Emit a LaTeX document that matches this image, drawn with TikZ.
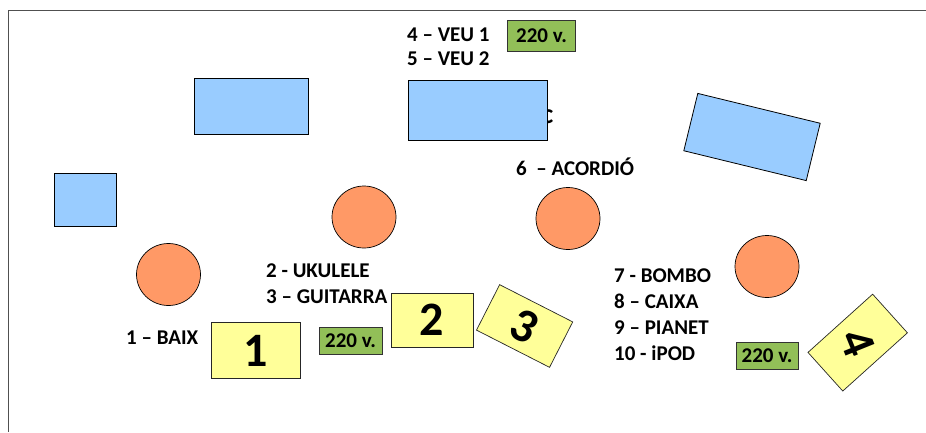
\documentclass[tikz,border=0pt]{standalone}
\usepackage{fontspec}
\setmainfont{Carlito}
\usetikzlibrary{shapes.geometric}
\definecolor{blueF}{HTML}{99CCFF}
\definecolor{orangeF}{HTML}{FF9966}
\definecolor{yellowF}{HTML}{FFFF99}
\definecolor{greenF}{HTML}{92BF58}
\definecolor{frameC}{HTML}{505050}
\begin{document}
\begin{tikzpicture}[x=1pt,y=-1pt,
  lbl/.style={font=\fontsize{21}{24}\selectfont\bfseries, anchor=base west, inner sep=0pt},
  bluebox/.style={draw=black, line width=0.8pt, fill=blueF, inner sep=0pt},
  drum/.style={ellipse, draw=black, line width=0.7pt, fill=orangeF, minimum width=64pt, minimum height=62pt, inner sep=0pt},
  monitor/.style={draw=black!85, line width=0.7pt, fill=yellowF, inner sep=0pt, font=\fontsize{48}{50}\selectfont\bfseries},
  plug/.style={draw=black!80, line width=0.8pt, fill=greenF, inner sep=0pt, font=\fontsize{21}{24}\selectfont\bfseries}]
\useasboundingbox (0,0) rectangle (926,432);
% frame
\coordinate (fTR) at (926,10.5);
\coordinate (fTL) at (8.5,10.5);
\coordinate (fBL) at (8.5,432);
\draw[frameC, line width=1.6pt] (fTR) -- (fTL) -- (fBL);
% hidden letter behind the centre box
\node[font=\fontsize{28}{30}\selectfont\bfseries, anchor=base east, inner sep=0pt] (cl) at (553.5,123) {c};
% blue boxes
\node[bluebox, minimum width=114pt, minimum height=56pt] (bA) at (251,106) {};
\node[bluebox, minimum width=139pt, minimum height=60pt] (bB) at (477.5,110) {};
\node[bluebox, minimum width=62pt, minimum height=53pt] (bC) at (85,199.5) {};
\node[bluebox, minimum width=126pt, minimum height=59pt, rotate=-13.7] (bD) at (752,137) {};
% drums / circles
\node[drum] (o1) at (168.5,274.5) {};
\node[drum] (o2) at (364,217) {};
\node[drum] (o3) at (568,218.5) {};
\node[drum] (o4) at (767,266.5) {};
% monitors
\node[monitor, minimum width=89pt, minimum height=56pt] (m1) at (255.5,350.5) {\raisebox{-2pt}{1}};
\node[monitor, minimum width=82pt, minimum height=54pt] (m2) at (432,320) {2};
\node[monitor, minimum width=82pt, minimum height=51pt, rotate=-27] (m3) at (524.6,326) {3};
\node[monitor, minimum width=52pt, minimum height=87pt, rotate=-48] (m4) at (857.7,342.6) {};
\node[font=\fontsize{48}{50}\selectfont\bfseries, inner sep=0pt, rotate=-68] (m4t) at (m4.center) {4};
% power
\node[plug, minimum width=68pt, minimum height=31pt] (p1) at (541.5,35.5) {220 v.};
\node[plug, minimum width=63pt, minimum height=27pt] (p2) at (350.5,340.5) {220 v.};
\node[plug, minimum width=62pt, minimum height=27pt] (p3) at (767,356) {220 v.};
% labels
\node[lbl] (t4) at (407,41) {4 – VEU 1};
\node[lbl] (t5) at (407,65) {5 – VEU 2};
\node[lbl] (t6) at (516,175) {6\ \ – ACORDIÓ};
\node[lbl] (t2) at (266,277) {2 - UKULELE};
\node[lbl] (t3) at (266,303) {3 – GUITARRA};
\node[lbl] (t1) at (126,344) {1 – BAIX};
\node[lbl] (t7) at (614,282) {7 - BOMBO};
\node[lbl] (t8) at (614,308) {8 – CAIXA};
\node[lbl] (t9) at (614,334) {9 – PIANET};
\node[lbl] (t10) at (614,360) {10 - iPOD};
\end{tikzpicture}
\end{document}
